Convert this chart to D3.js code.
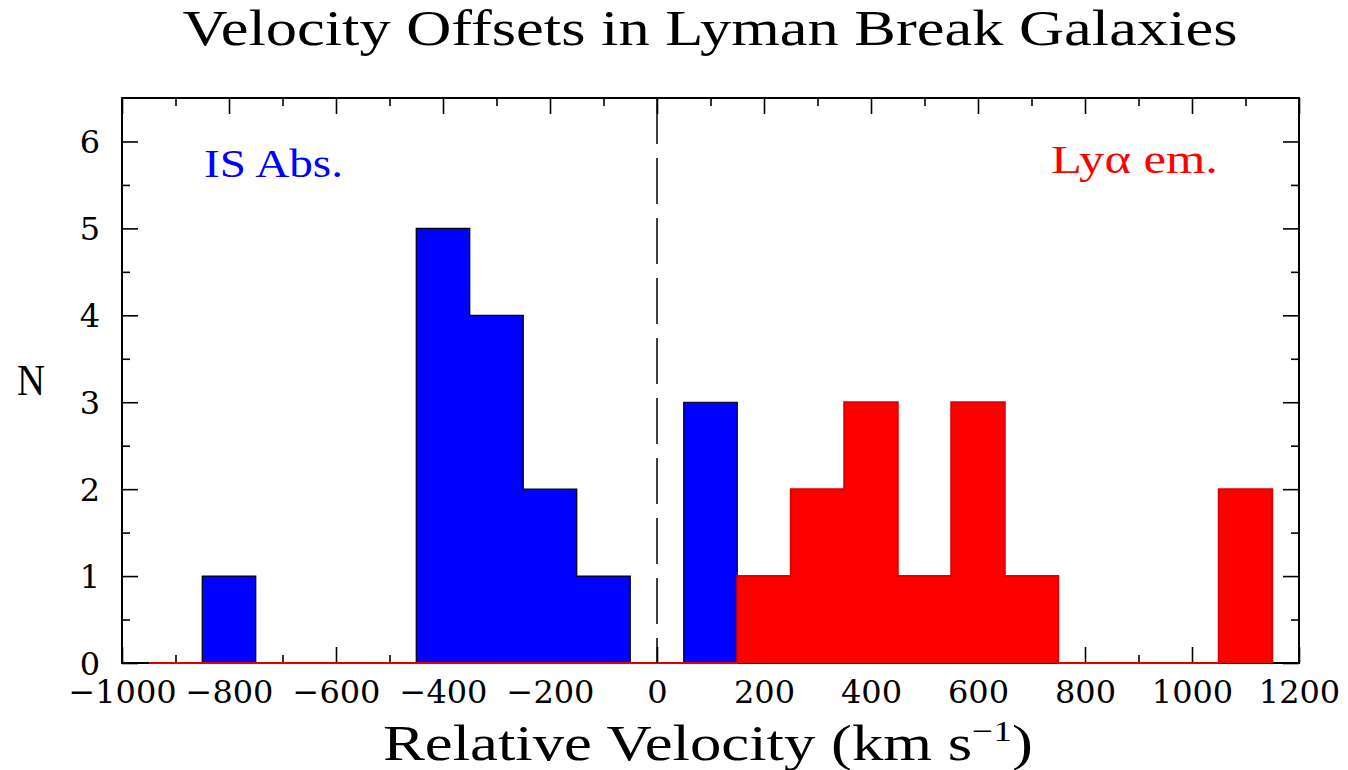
<!DOCTYPE html>
<html>
<head>
<meta charset="utf-8">
<script src="https://cdn.jsdelivr.net/npm/d3@7"></script>
<style>
  html, body { margin: 0; padding: 0; background: #fff; }
  svg { display: block; }
  text { font-family: "Liberation Serif", "DejaVu Serif", serif; fill: #000; }
</style>
</head>
<body>
<svg id="chart" width="1348" height="770"></svg>
<script>
// Histogram bins (km/s): bin centres, 100 km/s wide
const binCenters = [-900, -800, -700, -600, -500, -400, -300, -200, -100, 0, 100,
                    200, 300, 400, 500, 600, 700, 800, 900, 1000, 1100];
// Interstellar absorption line offsets
const absCounts = [0, 1, 0, 0, 0, 5, 4, 2, 1, 0, 3,
                   0, 0, 0, 0, 0, 0, 0, 0, 0, 0];
// Lyman-alpha emission offsets
const lyaCounts = [0, 0, 0, 0, 0, 0, 0, 0, 0, 0, 0,
                   1, 2, 3, 1, 3, 1, 0, 0, 0, 2];
const binWidth = 100;

const xMajorTicks = [-1000, -800, -600, -400, -200, 0, 200, 400, 600, 800, 1000, 1200];
const yMajorTicks = [0, 1, 2, 3, 4, 5, 6];

const svg = d3.select("#chart");
const margin = { left: 122, right: 49, top: 98, bottom: 107 };
const W = 1348, H = 770;
const x = d3.scaleLinear().domain([-1000, 1200]).range([margin.left, W - margin.right]);
const y = d3.scaleLinear().domain([0, 6.5]).range([H - margin.bottom, margin.top]);

// Build a closed step outline for a histogram
function stepPoints(counts) {
  const pts = [{ x: binCenters[0] - binWidth / 2, y: 0 }];
  counts.forEach((c, i) => pts.push({ x: binCenters[i] - binWidth / 2, y: c }));
  const lastEdge = binCenters[binCenters.length - 1] + binWidth / 2;
  pts.push({ x: lastEdge, y: counts[counts.length - 1] });
  pts.push({ x: lastEdge, y: 0 });
  return pts;
}
const area = d3.area().x(d => x(d.x)).y0(y(0)).y1(d => y(d.y)).curve(d3.curveStepAfter);
const line = d3.line().x(d => x(d.x)).y(d => y(d.y)).curve(d3.curveStepAfter);

// Axes with inward ticks on all four sides
const xMinor = d3.range(-900, 1200, 200);
const yMinor = d3.range(0.5, 6.5, 1);
const tickFont = '"DejaVu Serif", "Liberation Serif", serif';
const fs = 32;

function styleAxis(g) {
  g.select(".domain").remove();
  g.selectAll(".tick line").attr("stroke", "#000").attr("stroke-width", 1.6);
  g.selectAll("text").style("font-family", tickFont)
    .style("font-size", fs + "px").attr("fill", "#000");
}

svg.append("g").attr("transform", `translate(0,${y(0)})`)
  .call(d3.axisBottom(x).tickValues(xMajorTicks).tickSizeInner(-16).tickSizeOuter(0)
    .tickPadding(17).tickFormat(d3.format("d")))
  .call(styleAxis);
svg.append("g").attr("transform", `translate(0,${y(0)})`)
  .call(d3.axisBottom(x).tickValues(xMinor).tickSizeInner(-8).tickSizeOuter(0).tickFormat(""))
  .call(styleAxis);
svg.append("g").attr("transform", `translate(0,${y(6.5)})`)
  .call(d3.axisTop(x).tickValues(xMajorTicks).tickSizeInner(-16).tickSizeOuter(0).tickFormat(""))
  .call(styleAxis);
svg.append("g").attr("transform", `translate(0,${y(6.5)})`)
  .call(d3.axisTop(x).tickValues(xMinor).tickSizeInner(-8).tickSizeOuter(0).tickFormat(""))
  .call(styleAxis);

svg.append("g").attr("transform", `translate(${x(-1000)},0)`)
  .call(d3.axisLeft(y).tickValues(yMajorTicks).tickSizeInner(-16).tickSizeOuter(0)
    .tickPadding(22).tickFormat(d3.format("d")))
  .call(styleAxis)
  .call(g => g.selectAll("text").attr("dy", "0.36em"));
svg.append("g").attr("transform", `translate(${x(-1000)},0)`)
  .call(d3.axisLeft(y).tickValues(yMinor).tickSizeInner(-8).tickSizeOuter(0).tickFormat(""))
  .call(styleAxis);
svg.append("g").attr("transform", `translate(${x(1200)},0)`)
  .call(d3.axisRight(y).tickValues(yMajorTicks).tickSizeInner(-16).tickSizeOuter(0).tickFormat(""))
  .call(styleAxis);
svg.append("g").attr("transform", `translate(${x(1200)},0)`)
  .call(d3.axisRight(y).tickValues(yMinor).tickSizeInner(-8).tickSizeOuter(0).tickFormat(""))
  .call(styleAxis);

// Frame
svg.append("rect")
  .attr("x", x(-1000)).attr("y", y(6.5))
  .attr("width", x(1200) - x(-1000)).attr("height", y(0) - y(6.5))
  .attr("fill", "none").attr("stroke", "#000").attr("stroke-width", 2);

const plot = svg.append("g");

// Absorption histogram (blue, outlined)
const absPts = stepPoints(absCounts);
plot.append("path").attr("d", area(absPts)).attr("fill", "#0000ff");
plot.append("path").attr("d", line(absPts)).attr("fill", "none")
  .attr("stroke", "#000").attr("stroke-width", 1.2);

// Lyman-alpha histogram (red)
const lyaPts = stepPoints(lyaCounts);
plot.append("path").attr("d", area(lyaPts)).attr("fill", "#ff0000");
plot.append("path").attr("d", line(lyaPts)).attr("fill", "none")
  .attr("stroke", "#e00000").attr("stroke-width", 2);

// Zero-velocity dashed line
plot.append("line")
  .attr("x1", x(0)).attr("x2", x(0))
  .attr("y1", y(6.5)).attr("y2", y(0))
  .attr("stroke", "#000").attr("stroke-width", 1.5)
  .attr("stroke-dasharray", "46,14");

// Titles and labels
svg.append("text")
  .attr("x", 710).attr("y", 45).attr("text-anchor", "middle")
  .attr("textLength", 1055).attr("lengthAdjust", "spacingAndGlyphs")
  .style("font-size", "50px").text("Velocity Offsets in Lyman Break Galaxies");

const xl = svg.append("text")
  .attr("x", 708).attr("y", 760).attr("text-anchor", "middle")
  .attr("textLength", 650).attr("lengthAdjust", "spacingAndGlyphs")
  .style("font-size", "50px");
xl.append("tspan").text("Relative Velocity (km s");
xl.append("tspan").attr("dy", -19).style("font-size", "30px").text("−1");
xl.append("tspan").attr("dy", 19).text(")");

svg.append("text")
  .attr("x", 31).attr("y", 395).attr("text-anchor", "middle")
  .attr("textLength", 28).attr("lengthAdjust", "spacingAndGlyphs")
  .style("font-size", "45px").text("N");

svg.append("text")
  .attr("x", 204).attr("y", 177)
  .attr("textLength", 139).attr("lengthAdjust", "spacingAndGlyphs")
  .style("font-size", "40px").style("fill", "#0000ff")
  .text("IS Abs.");

svg.append("text")
  .attr("x", 1051).attr("y", 173)
  .attr("textLength", 167).attr("lengthAdjust", "spacingAndGlyphs")
  .style("font-size", "40px").style("fill", "#ff0000")
  .text("Lyα em.");
</script>
</body>
</html>
